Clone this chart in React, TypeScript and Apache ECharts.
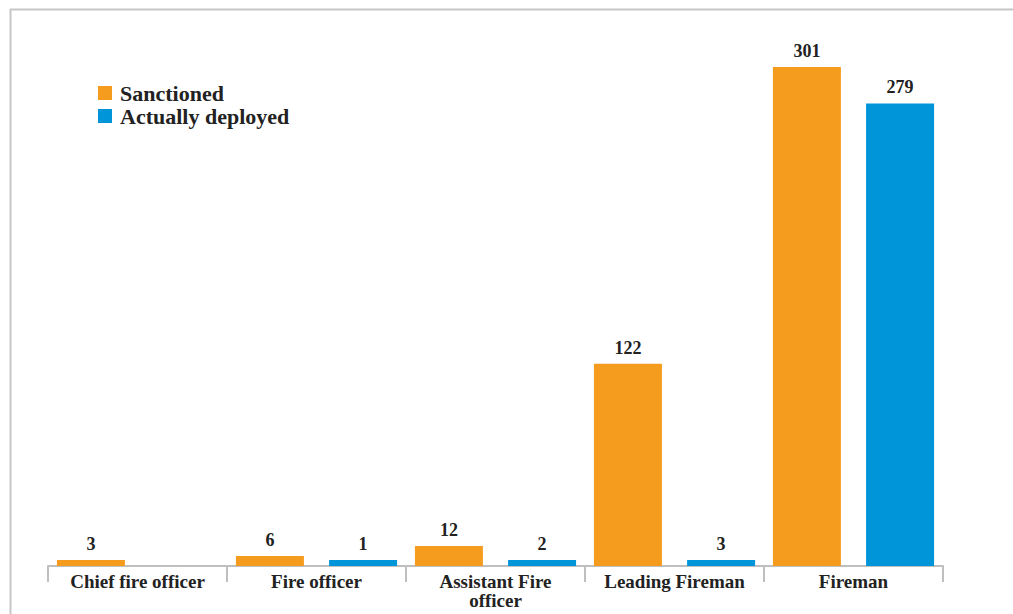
import React, { useEffect, useRef } from "react";
import * as echarts from "echarts";

const categories = ["Chief fire officer", "Fire officer", "Assistant Fire\nofficer", "Leading Fireman", "Fireman"];
const sanctioned = [3, 6, 12, 122, 301];
const deployed = [null, 1, 2, 3, 279];
const seriesNames = ["Sanctioned", "Actually deployed"];

const ORANGE = "#F59C1E";
const BLUE = "#0095D9";
const FONT = "Liberation Serif";

export default function App() {
  const ref = useRef<HTMLDivElement>(null);
  useEffect(() => {
    document.body.style.margin = "0";
    const chart = echarts.init(ref.current!, null, { renderer: "svg" });
    const labelStyle = {
      show: true,
      position: "top",
      distance: 7,
      fontFamily: FONT,
      fontWeight: "bold",
      fontSize: 18,
      color: "#222",
    };
    chart.setOption({
      animation: false,
      backgroundColor: "#fff",
      graphic: [
        { type: "line", shape: { x1: 10, y1: 9.5, x2: 1013, y2: 9.5 }, style: { stroke: "#C6C6C6", lineWidth: 2 } },
        { type: "line", shape: { x1: 10.5, y1: 9, x2: 10.5, y2: 614 }, style: { stroke: "#C6C6C6", lineWidth: 2 } },
      ],
      legend: {
        orient: "vertical",
        left: 93,
        top: 77,
        itemWidth: 14,
        itemHeight: 14,
        itemGap: 1,
        icon: "rect",
        textStyle: {
          fontFamily: FONT,
          fontWeight: "bold",
          fontSize: 22,
          lineHeight: 20,
          color: "#222",
          padding: [0, 0, 0, 3],
        },
        data: seriesNames,
      },
      grid: { left: 48, right: 70, top: 67, bottom: 48 },
      xAxis: {
        type: "category",
        data: categories,
        axisLine: { lineStyle: { color: "#BFBFBF", width: 2 } },
        axisTick: { show: true, length: 16, lineStyle: { color: "#BFBFBF", width: 2 } },
        axisLabel: {
          interval: 0,
          margin: 6,
          fontFamily: FONT,
          fontWeight: "bold",
          fontSize: 19,
          color: "#222",
          lineHeight: 19,
        },
      },
      yAxis: {
        type: "value",
        min: 0,
        max: 301,
        show: false,
        splitLine: { show: false },
      },
      series: [
        {
          name: seriesNames[0],
          type: "bar",
          data: sanctioned,
          barWidth: 68,
          barGap: "37%",
          barMinHeight: 6,
          itemStyle: { color: ORANGE },
          label: labelStyle,
        },
        {
          name: seriesNames[1],
          type: "bar",
          data: deployed,
          barWidth: 68,
          barMinHeight: 6,
          itemStyle: { color: BLUE },
          label: labelStyle,
        },
      ],
    });
    return () => chart.dispose();
  }, []);
  return <div ref={ref} style={{ width: 1013, height: 614 }} />;
}
